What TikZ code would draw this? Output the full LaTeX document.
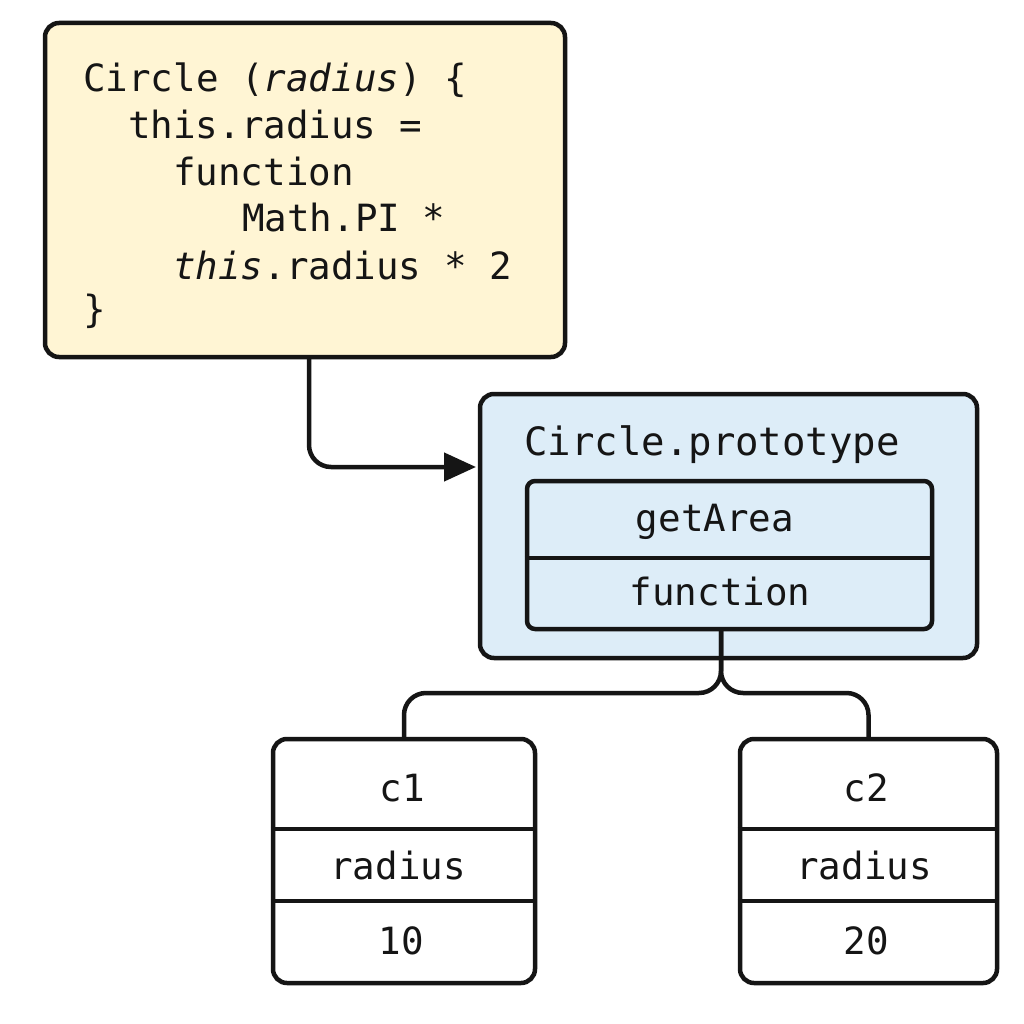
\documentclass[tikz,border=0pt]{standalone}
\usepackage{fontspec}
\setmonofont{DejaVu Sans Mono}
\usetikzlibrary{arrows.meta}
\definecolor{ycream}{HTML}{FFF5D4}
\definecolor{lblue}{HTML}{DDEDF8}
\definecolor{inkc}{HTML}{151515}
\begin{document}
\begin{tikzpicture}[x=1pt,y=-1pt,
  box/.style={draw=inkc,line width=4.5pt,rounded corners=14pt,inner sep=0pt},
  codetxt/.style={font=\fontsize{37.5}{40}\ttfamily,inner sep=0pt,anchor=base west,text=inkc},
  celltxt/.style={font=\fontsize{37.5}{40}\ttfamily,inner sep=0pt,text=inkc},
  conn/.style={draw=inkc,line width=4.5pt,rounded corners=22pt},
  sep/.style={draw=inkc,line width=4.5pt}]
\useasboundingbox (0,0) rectangle (1024,1024);
\fill[white] (0,0) rectangle (1024,1024);
% code box
\node[box,fill=ycream,minimum width=520pt,minimum height=334pt] (code) at (305,190) {};
\node[codetxt] (l1) at (83,92) {Circle (\textit{radius}) \{};
\node[codetxt] (l2) at (128,139) {this.radius =};
\node[codetxt] (l3) at (173,186) {function};
\node[codetxt] (l4) at (242,232) {Math.PI *};
\node[codetxt] (l5) at (173,279) {\textit{this}.radius * 2};
\node[codetxt] (l6) at (83,322) {\}};
% prototype box
\node[box,fill=lblue,minimum width=497pt,minimum height=264pt] (proto) at (728.5,526) {};
\node[celltxt,font=\fontsize{39}{42}\ttfamily,anchor=base west] (ptitle) at (524,455) {Circle.prototype};
\node[box,rounded corners=8pt,minimum width=405pt,minimum height=148pt] (inner) at (729.5,555) {};
\draw[sep] (inner.west |- 0,558) -- (inner.east |- 0,558);
\node[celltxt] (ga) at (715,522) {getArea};
\node[celltxt] (fn) at (720,592) {function};
% arrow from code to prototype
\coordinate (cstart) at (309,357);
\coordinate (ptarget) at (476,467);
\draw[conn,-{Triangle[length=32pt,width=28pt]}] (cstart) |- (ptarget);
% instance boxes
\node[box,fill=white,minimum width=262pt,minimum height=244pt] (c1) at (404,861) {};
\draw[sep] (c1.west |- 0,829) -- (c1.east |- 0,829);
\draw[sep] (c1.west |- 0,901) -- (c1.east |- 0,901);
\node[celltxt] (c1n) at (402,788) {c1};
\node[celltxt] (c1k) at (398,866) {radius};
\node[celltxt] (c1v) at (401,941) {10};
\node[box,fill=white,minimum width=257pt,minimum height=244pt] (c2) at (868.5,861) {};
\draw[sep] (c2.west |- 0,829) -- (c2.east |- 0,829);
\draw[sep] (c2.west |- 0,901) -- (c2.east |- 0,901);
\node[celltxt] (c2n) at (866,788) {c2};
\node[celltxt] (c2k) at (864,866) {radius};
\node[celltxt] (c2v) at (866,941) {20};
% links
\coordinate (sp) at (721,629);
\coordinate (jn) at (721,693);
\draw[conn] (sp) -- (jn) -| (c1.north);
\draw[conn] (sp) -- (jn) -| (c2.north);
\end{tikzpicture}
\end{document}
